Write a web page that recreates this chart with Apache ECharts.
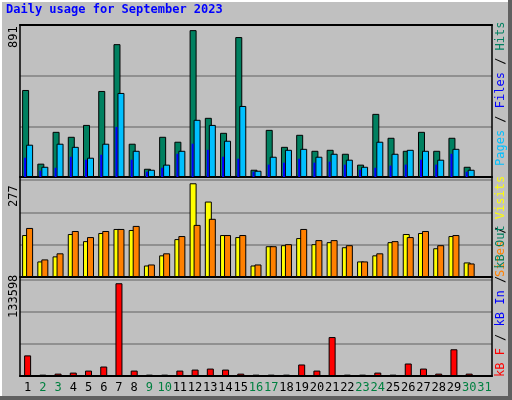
<!DOCTYPE html>
<html><head><meta charset="utf-8">
<script src="https://cdn.jsdelivr.net/npm/echarts@6/dist/echarts.min.js"></script>
<style>body{margin:0;background:#c0c0c0}#box{width:512px;height:400px}</style>
</head><body><div id="box"></div>
<script>
var days = [];
for (var d = 1; d <= 31; d++) days.push(String(d));
var weekend = ['2', '3', '9', '10', '16', '17', '23', '24', '30', '31'];
var hits = [528, 81, 274, 244, 316, 522, 806, 202, 50, 244, 214, 891, 359, 268, 849, 44, 286, 183, 256, 159, 165, 141, 75, 383, 238, 159, 274, 159, 238, 62, null];
var files = [196, 62, 202, 183, 117, 202, 510, 159, 44, 75, 159, 347, 316, 220, 431, 38, 123, 165, 171, 123, 141, 105, 62, 214, 141, 165, 159, 105, 171, 44, null];
var pages = [117, 38, 56, 123, 105, 135, 304, 105, 32, 56, 141, 202, 165, 123, 111, 32, 75, 87, 111, 87, 93, 75, 44, 56, 69, 75, 105, 75, 141, 32, null];
var visits = [124, 46, 61, 127, 106, 130, 142, 139, 34, 64, 112, 277, 223, 124, 118, 34, 91, 94, 115, 97, 103, 88, 46, 64, 103, 127, 130, 85, 121, 43, null];
var sites = [145, 52, 70, 136, 118, 136, 142, 151, 37, 70, 121, 154, 172, 124, 124, 37, 91, 97, 142, 109, 109, 94, 46, 70, 106, 118, 136, 94, 124, 40, null];
var kbytes = [29700, 1950, 3400, 4900, 7800, 13650, 133598, 7800, 1950, 1950, 7800, 9260, 10700, 9260, 3400, 1950, 1950, 1950, 16600, 7800, 56100, 1950, 1950, 4900, 1950, 18000, 10700, 3400, 38500, 3400, null];

var myChart = echarts.init(document.getElementById('box'));
var font = 'DejaVu Sans Mono';
var grids = [
    {left: 20, right: 20, top: 25, height: 152},
    {left: 20, right: 20, top: 180, height: 97},
    {left: 20, right: 20, top: 280, height: 96}
];
function yax(grid, max) {
    var top = max * 1.035;
    return {gridIndex: grid, min: 0, max: top, interval: top / 3, axisLabel: {show: false},
        axisLine: {show: false}, axisTick: {show: false},
        splitLine: {lineStyle: {color: '#808080', width: 1.5}}};
}
function xax(grid, show) {
    return {type: 'category', gridIndex: grid, data: days,
        axisLine: {show: true, lineStyle: {color: '#000', width: 2}}, axisTick: {show: false},
        axisLabel: {show: show, margin: 6, fontFamily: font, fontSize: 12, interval: 0,
            color: function (v) { return weekend.indexOf(v) >= 0 ? '#008040' : '#000'; }}};
}
var bs = {borderColor: '#000', borderWidth: 1};
option = {
    backgroundColor: '#c0c0c0',
    animation: false,
    grid: grids,
    xAxis: [xax(0, false), xax(0, false), xax(1, false), xax(2, true)],
    yAxis: [yax(0, 891), yax(1, 277), yax(2, 133598)],
    series: [
        {type: 'bar', xAxisIndex: 0, yAxisIndex: 0, data: hits, barWidth: 7, barGap: '-43%', itemStyle: Object.assign({color: '#008060'}, bs)},
        {type: 'bar', xAxisIndex: 0, yAxisIndex: 0, data: files, barWidth: 7, barGap: '-43%', itemStyle: Object.assign({color: '#00c0ff'}, bs)},
        {type: 'bar', xAxisIndex: 1, yAxisIndex: 0, data: pages, barWidth: 2, barGap: 0, z: 3, itemStyle: {color: '#0000ff'}},
        {type: 'bar', xAxisIndex: 1, yAxisIndex: 0, data: [], barWidth: 5, barGap: 0},
        {type: 'bar', xAxisIndex: 2, yAxisIndex: 1, data: visits, barWidth: 7, barGap: '-43%', itemStyle: Object.assign({color: '#ffff00'}, bs)},
        {type: 'bar', xAxisIndex: 2, yAxisIndex: 1, data: sites, barWidth: 7, barGap: '-43%', itemStyle: Object.assign({color: '#ff8000'}, bs)},
        {type: 'bar', xAxisIndex: 3, yAxisIndex: 2, data: kbytes, barWidth: 7, itemStyle: Object.assign({color: '#ff0000'}, bs)}
    ],
    graphic: [
        {type: 'rect', shape: {x: 1, y: 1, width: 508, height: 396}, style: {fill: 'none', stroke: '#fff', lineWidth: 2}},
        {type: 'line', shape: {x1: 510, y1: 0, x2: 510, y2: 400}, style: {stroke: '#606060', lineWidth: 4}},
        {type: 'line', shape: {x1: 0, y1: 398, x2: 512, y2: 398}, style: {stroke: '#606060', lineWidth: 4}},
        {type: 'rect', shape: {x: 20, y: 25, width: 472, height: 351}, style: {fill: 'none', stroke: '#000', lineWidth: 1.5}, z: 10},
        {type: 'text', left: 6, top: 4, style: {text: 'Daily usage for September 2023', fill: '#0000ff', font: 'bold 12px ' + font}},
        {type: 'text', x: 8, y: 48, rotation: Math.PI / 2, style: {text: '891', fill: '#000', font: '12px ' + font}},
        {type: 'text', x: 8, y: 207, rotation: Math.PI / 2, style: {text: '277', fill: '#000', font: '12px ' + font}},
        {type: 'text', x: 8, y: 318, rotation: Math.PI / 2, style: {text: '133598', fill: '#000', font: '12px ' + font}},
        {type: 'text', x: 495, y: 166, rotation: Math.PI / 2, style: {
            text: '{c|Pages} {k|/} {b|Files} {k|/} {g|Hits}', font: '12px ' + font,
            rich: {c: {fill: '#00c0ff'}, k: {fill: '#000'}, b: {fill: '#0000ff'}, g: {fill: '#008060'}}}},
        {type: 'text', x: 495, y: 277, rotation: Math.PI / 2, style: {
            text: '{s|Sites} {k|/} {v|Visits}', font: '12px ' + font,
            rich: {s: {fill: '#ff8000'}, k: {fill: '#000'}, v: {fill: '#ffff00'}}}},
        {type: 'text', x: 495, y: 377, rotation: Math.PI / 2, style: {
            text: '{r|kB F} {k|/} {b|kB In} {k|/} {g|kB Out}', font: '12px ' + font,
            rich: {r: {fill: '#ff0000'}, k: {fill: '#000'}, b: {fill: '#0000ff'}, g: {fill: '#008060'}}}}
    ]
};
myChart.setOption(option);
</script></body></html>
